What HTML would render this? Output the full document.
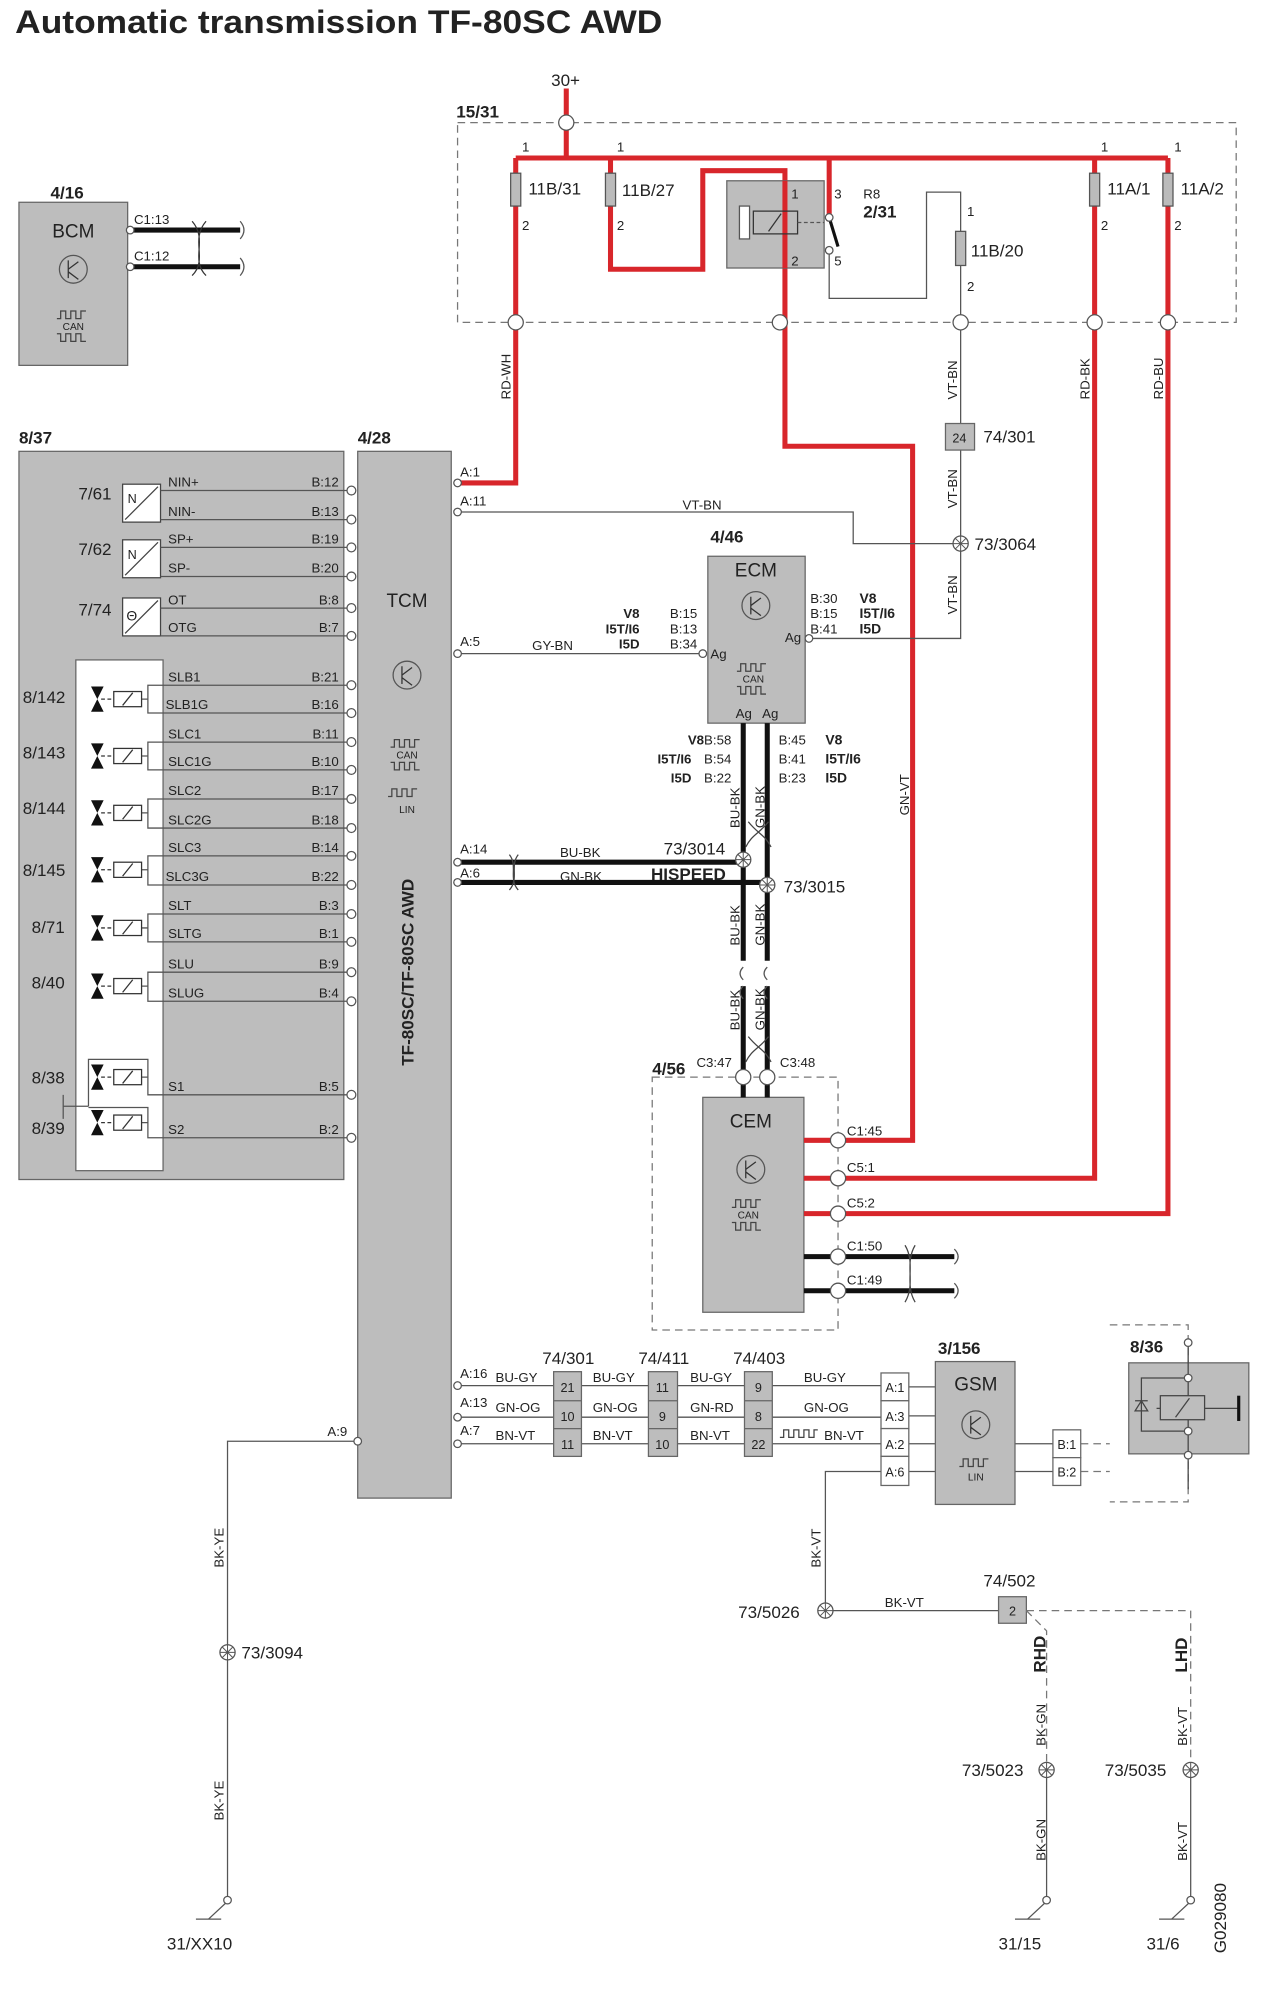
<!DOCTYPE html>
<html><head><meta charset="utf-8"><style>
html,body{margin:0;padding:0;background:#fff;}
svg{display:block;}
text{font-family:"Liberation Sans",Arial,sans-serif;fill:#222;}
.s{font-size:10.5px}.m{font-size:13.5px}.l{font-size:15px}.b{font-weight:bold}
.w{stroke:#555;stroke-width:1;fill:none}
.k{stroke:#111;stroke-width:4;fill:none}
.r{stroke:#d8262b;stroke-width:4;fill:none}
.box{fill:#bdbdbd;stroke:#666;stroke-width:1}
.d{stroke:#777;stroke-width:1;fill:none;stroke-dasharray:6 4}
.p{fill:#fff;stroke:#555;stroke-width:1}
</style></head><body>
<svg width="1264" height="2000" viewBox="0 0 1000 1582" preserveAspectRatio="none" xmlns="http://www.w3.org/2000/svg">
<defs>
<g id="tr"><circle cx="0" cy="0" r="11" fill="none" stroke="#555"/><path d="M-4,-7 V7 M-4,0 L4,-6 M-4,2 L4,8" stroke="#333" fill="none"/></g>
<g id="can"><path d="M-13,-6 h3 v-6 h4 v6 h4 v-6 h4 v6 h4 v-6 h4" stroke="#444" fill="none"/><path d="M-13,6 h3 v6 h4 v-6 h4 v6 h4 v-6 h4 v6 h4" stroke="#444" fill="none"/><text x="0" y="3" font-size="8" text-anchor="middle">CAN</text></g>
<g id="sol"><path d="M72,-10 L82,-10 L77,0 Z M72,10 L82,10 L77,0 Z" fill="#111"/><path d="M80,0 H90" stroke="#333" stroke-dasharray="3 2"/><rect x="90" y="-6" width="22" height="12" fill="#fff" stroke="#333"/><path d="M97,5 L105,-5" stroke="#333"/></g>
<g id="sp"><circle r="6" fill="#fff" stroke="#555"/><path d="M-4,-4 L4,4 M-4,4 L4,-4 M0,-6 V6 M-6,0 H6" stroke="#555" stroke-width="0.8"/></g>
</defs>

<text x="12" y="26" font-size="26" class="b" textLength="512" lengthAdjust="spacingAndGlyphs">Automatic transmission TF-80SC AWD</text>

<!-- 15/31 -->
<text x="436" y="68" class="m">30+</text>
<path d="M448,70 V125" class="r"/>
<rect x="362" y="97" width="616" height="158" class="d"/>
<text x="361" y="93" class="m b">15/31</text>
<path d="M408,125 H924" class="r"/>
<circle cx="448" cy="97" r="6" class="p"/>
<g class="r"><path d="M408,125 V255 M408,255 V382 H362"/><path d="M483,125 V213 H556 V135 H621 V255 V353 H722 V902 H663"/><path d="M656,125 V175"/><path d="M866,125 V932 H663"/><path d="M924,125 V960 H663"/></g>
<path d="M621,160 H605 V195 H621" stroke="#d8262b" stroke-width="3" fill="none"/>
<rect x="404" y="137" width="8" height="26" fill="#bbb" stroke="#555"/>
<rect x="479" y="137" width="8" height="26" fill="#bbb" stroke="#555"/>
<rect x="862" y="137" width="8" height="26" fill="#bbb" stroke="#555"/>
<rect x="920" y="137" width="8" height="26" fill="#bbb" stroke="#555"/>
<text x="418" y="154" class="m">11B/31</text><text x="492" y="155" class="m">11B/27</text>
<text x="876" y="154" class="m">11A/1</text><text x="934" y="154" class="m">11A/2</text>
<g class="s"><text x="413" y="120">1</text><text x="488" y="120">1</text><text x="871" y="120">1</text><text x="929" y="120">1</text>
<text x="413" y="182">2</text><text x="488" y="182">2</text><text x="871" y="182">2</text><text x="929" y="182">2</text></g>
<rect x="575" y="143" width="77" height="69" class="box"/>
<path d="M621,143 V212" class="r" stroke-width="3"/>
<rect x="585" y="163" width="8" height="26" fill="#fff" stroke="#555"/>
<rect x="596" y="167" width="35" height="18" fill="none" stroke="#333"/>
<path d="M608,183 L618,169" stroke="#333"/>
<path d="M631,176 H652" stroke="#555" stroke-dasharray="3 2"/>
<path d="M656,172 L663,195" stroke="#111" stroke-width="2.5"/>
<circle cx="656" cy="172" r="3" class="p"/><circle cx="656" cy="198" r="3" class="p"/>
<path d="M656,201 V236 H733 V152 H760 V255" class="w"/>
<rect x="756" y="183" width="8" height="27" fill="#bbb" stroke="#555"/>
<text x="768" y="203" class="m">11B/20</text>
<text x="765" y="171" class="s">1</text><text x="765" y="230" class="s">2</text>
<text x="626" y="157" class="s">1</text><text x="660" y="157" class="s">3</text><text x="626" y="210" class="s">2</text><text x="660" y="210" class="s">5</text>
<text x="683" y="157" class="s">R8</text><text x="683" y="172" class="m b">2/31</text>
<g><circle cx="408" cy="255" r="6" class="p"/><circle cx="617" cy="255" r="6" class="p"/><circle cx="760" cy="255" r="6" class="p"/><circle cx="866" cy="255" r="6" class="p"/><circle cx="924" cy="255" r="6" class="p"/></g>
<g class="s"><text transform="translate(404,316) rotate(-90)">RD-WH</text><text transform="translate(757,316) rotate(-90)">VT-BN</text><text transform="translate(862,316) rotate(-90)">RD-BK</text><text transform="translate(920,316) rotate(-90)">RD-BU</text>
<text transform="translate(757,402) rotate(-90)">VT-BN</text><text transform="translate(757,486) rotate(-90)">VT-BN</text><text transform="translate(719,645) rotate(-90)">GN-VT</text></g>
<path d="M760,261 V335 M760,356 V505 H640" class="w"/>
<rect x="748" y="335" width="23" height="21" class="box"/><text x="759" y="350" font-size="10" text-anchor="middle">24</text>
<text x="778" y="350" class="m">74/301</text>
<path d="M362,405 H675 V430 H760" class="w"/>
<use href="#sp" x="760" y="430"/><text x="771" y="435" class="m">73/3064</text>

<!-- BCM -->
<text x="40" y="157" class="m b">4/16</text>
<rect x="15" y="160" width="86" height="129" class="box"/>
<text x="58" y="188" class="l" text-anchor="middle">BCM</text>
<use href="#tr" x="58" y="213"/><use href="#can" x="58" y="258"/>
<path d="M103,182 H190 M103,211 H190" class="k"/>
<path d="M152,175 C165,190 150,205 163,218 M163,175 C150,190 165,205 152,218" stroke="#333" fill="none"/>
<circle cx="103" cy="182" r="3" class="p"/><circle cx="103" cy="211" r="3" class="p"/>
<text x="106" y="177" class="s">C1:13</text><text x="106" y="206" class="s">C1:12</text>
<path d="M190,175 q6,7 0,14 M190,204 q6,7 0,14" stroke="#555" fill="none"/>

<!-- 8/37 -->
<text x="15" y="351" class="m b">8/37</text><text x="283" y="351" class="m b">4/28</text>
<rect x="15" y="357" width="257" height="576" class="box"/>
<rect x="283" y="357" width="74" height="828" class="box"/>
<rect x="60" y="522" width="69" height="404" fill="#fff" stroke="#666"/>
<text x="322" y="480" class="l" text-anchor="middle">TCM</text>
<use href="#tr" x="322" y="534"/>
<use href="#can" x="322" y="597"/>
<path d="M307,630 h3 v-6 h4 v6 h4 v-6 h4 v6 h4 v-6 h4" stroke="#444" fill="none"/><text x="322" y="643" font-size="8" text-anchor="middle">LIN</text>
<text transform="translate(327,843) rotate(-90)" class="m b">TF-80SC/TF-80SC AWD</text>
<g fill="#fff" stroke="#444"><rect x="97" y="383" width="30" height="30"/><rect x="97" y="427" width="30" height="30"/><rect x="97" y="473" width="30" height="30"/></g>
<path d="M99,411 L125,385 M99,455 L125,429 M99,501 L125,475" stroke="#444"/>
<text x="101" y="398" font-size="10">N</text><text x="101" y="442" font-size="10">N</text><text x="100" y="491" font-size="11">Θ</text>
<g class="m"><text x="62" y="395">7/61</text><text x="62" y="439">7/62</text><text x="62" y="487">7/74</text>
<text x="18" y="556">8/142</text><text x="18" y="600">8/143</text><text x="18" y="644">8/144</text><text x="18" y="693">8/145</text><text x="25" y="738">8/71</text><text x="25" y="782">8/40</text><text x="25" y="857">8/38</text><text x="25" y="897">8/39</text></g>
<g class="w">
<path d="M127,388 H277 M127,411 H277 M127,433 H277 M127,456 H277 M127,481 H277 M127,503 H277"/>
<path d="M112,553 H117 V542 H277 M117,553 V564 H277"/>
<path d="M112,598 H117 V587 H277 M117,598 V609 H277"/>
<path d="M112,643 H117 V632 H277 M117,643 V655 H277"/>
<path d="M112,688 H117 V677 H277 M117,688 V700 H277"/>
<path d="M112,734 H117 V723 H277 M117,734 V745 H277"/>
<path d="M112,780 H117 V769 H277 M117,780 V792 H277"/>
<path d="M112,852 H117 V866 H277 M117,852 V838 H70 V875 M112,888 H117 V900 H277 M117,888 V876 H70 M50,866 V885 M50,875 H70"/>
</g>
<use href="#sol" y="553"/><use href="#sol" y="598"/><use href="#sol" y="643"/><use href="#sol" y="688"/><use href="#sol" y="734"/><use href="#sol" y="780"/><use href="#sol" y="852"/><use href="#sol" y="888"/>
<g class="s">
<text x="133" y="385">NIN+</text><text x="133" y="408">NIN-</text><text x="133" y="430">SP+</text><text x="133" y="453">SP-</text><text x="133" y="478">OT</text><text x="133" y="500">OTG</text>
<text x="133" y="539">SLB1</text><text x="131" y="561">SLB1G</text><text x="133" y="584">SLC1</text><text x="133" y="606">SLC1G</text><text x="133" y="629">SLC2</text><text x="133" y="652">SLC2G</text><text x="133" y="674">SLC3</text><text x="131" y="697">SLC3G</text><text x="133" y="720">SLT</text><text x="133" y="742">SLTG</text><text x="133" y="766">SLU</text><text x="133" y="789">SLUG</text><text x="133" y="863">S1</text><text x="133" y="897">S2</text>
</g>
<g class="s" text-anchor="end">
<text x="268" y="385">B:12</text><text x="268" y="408">B:13</text><text x="268" y="430">B:19</text><text x="268" y="453">B:20</text><text x="268" y="478">B:8</text><text x="268" y="500">B:7</text>
<text x="268" y="539">B:21</text><text x="268" y="561">B:16</text><text x="268" y="584">B:11</text><text x="268" y="606">B:10</text><text x="268" y="629">B:17</text><text x="268" y="652">B:18</text><text x="268" y="674">B:14</text><text x="268" y="697">B:22</text><text x="268" y="720">B:3</text><text x="268" y="742">B:1</text><text x="268" y="766">B:9</text><text x="268" y="789">B:4</text><text x="268" y="863">B:5</text><text x="268" y="897">B:2</text>
</g>
<g><circle cx="278" cy="388" r="3.5" class="p"/><circle cx="278" cy="411" r="3.5" class="p"/><circle cx="278" cy="433" r="3.5" class="p"/><circle cx="278" cy="456" r="3.5" class="p"/><circle cx="278" cy="481" r="3.5" class="p"/><circle cx="278" cy="503" r="3.5" class="p"/><circle cx="278" cy="542" r="3.5" class="p"/><circle cx="278" cy="564" r="3.5" class="p"/><circle cx="278" cy="587" r="3.5" class="p"/><circle cx="278" cy="609" r="3.5" class="p"/><circle cx="278" cy="632" r="3.5" class="p"/><circle cx="278" cy="655" r="3.5" class="p"/><circle cx="278" cy="677" r="3.5" class="p"/><circle cx="278" cy="700" r="3.5" class="p"/><circle cx="278" cy="723" r="3.5" class="p"/><circle cx="278" cy="745" r="3.5" class="p"/><circle cx="278" cy="769" r="3.5" class="p"/><circle cx="278" cy="792" r="3.5" class="p"/><circle cx="278" cy="866" r="3.5" class="p"/><circle cx="278" cy="900" r="3.5" class="p"/></g>

<g class="s"><text x="364" y="377">A:1</text><text x="364" y="400">A:11</text><text x="364" y="511">A:5</text><text x="364" y="675">A:14</text><text x="364" y="694">A:6</text><text x="540" y="403">VT-BN</text><text x="421" y="514">GY-BN</text><text x="443" y="678">BU-BK</text><text x="443" y="697">GN-BK</text></g>
<path d="M362,517 H556" class="w"/>
<text x="562" y="429" class="m b">4/46</text>
<rect x="560" y="440" width="77" height="132" class="box"/>
<text x="598" y="456" class="l" text-anchor="middle">ECM</text>
<use href="#tr" x="598" y="479"/><use href="#can" x="596" y="537"/>
<text x="562" y="521" class="s">Ag</text><text x="621" y="508" class="s">Ag</text><text x="582" y="568" class="s">Ag</text><text x="603" y="568" class="s">Ag</text>
<circle cx="556" cy="517" r="3" class="p"/><circle cx="640" cy="505" r="3" class="p"/>
<g class="s b" font-size="11" text-anchor="end"><text x="506" y="489">V8</text><text x="506" y="501">I5T/I6</text><text x="506" y="513">I5D</text><text x="557" y="589">V8</text><text x="547" y="604">I5T/I6</text><text x="547" y="619">I5D</text></g>
<g class="s"><text x="530" y="489">B:15</text><text x="530" y="501">B:13</text><text x="530" y="513">B:34</text><text x="641" y="477">B:30</text><text x="641" y="489">B:15</text><text x="641" y="501">B:41</text>
<text x="557" y="589">B:58</text><text x="557" y="604">B:54</text><text x="557" y="619">B:22</text><text x="616" y="589">B:45</text><text x="616" y="604">B:41</text><text x="616" y="619">B:23</text></g>
<g font-size="11" class="b"><text x="680" y="477">V8</text><text x="680" y="489">I5T/I6</text><text x="680" y="501">I5D</text><text x="653" y="589">V8</text><text x="653" y="604">I5T/I6</text><text x="653" y="619">I5D</text></g>
<path d="M588,572 V760 M607,572 V760 M588,780 V850 M607,780 V850" class="k" stroke-width="3.5"/>
<path d="M362,682 H588 M362,698 H607" class="k"/>
<path d="M588,775 q-5,-5 0,-10 M607,775 q-5,-5 0,-10 M588,790 q-5,-5 0,-10 M607,790 q-5,-5 0,-10" stroke="#555" fill="none"/>
<path d="M592,650 C600,660 605,660 610,670 M608,650 C600,660 595,660 590,670 M592,820 C600,830 605,830 610,840 M608,820 C600,830 595,830 590,840" stroke="#444" fill="none"/>
<path d="M403,676 C410,685 402,695 410,704 M410,676 C403,685 411,695 403,704" stroke="#444" fill="none"/>
<circle cx="362" cy="682" r="3" class="p"/><circle cx="362" cy="698" r="3" class="p"/><circle cx="362" cy="382" r="3" class="p"/><circle cx="362" cy="405" r="3" class="p"/><circle cx="362" cy="517" r="3" class="p"/>
<use href="#sp" x="588" y="680"/><use href="#sp" x="607" y="700"/>
<text x="525" y="676" class="m">73/3014</text><text x="620" y="706" class="m">73/3015</text>
<text x="515" y="696" class="m b" font-size="12">HISPEED</text>
<g class="s"><text transform="translate(585,655) rotate(-90)">BU-BK</text><text transform="translate(605,655) rotate(-90)">GN-BK</text><text transform="translate(585,748) rotate(-90)">BU-BK</text><text transform="translate(605,748) rotate(-90)">GN-BK</text><text transform="translate(585,815) rotate(-90)">BU-BK</text><text transform="translate(605,815) rotate(-90)">GN-BK</text></g>
<rect x="516" y="852" width="147" height="200" class="d"/>
<text x="516" y="850" class="m b">4/56</text><text x="551" y="844" class="s">C3:47</text><text x="617" y="844" class="s">C3:48</text>
<rect x="556" y="868" width="80" height="170" class="box"/>
<path d="M588,850 V868 M607,850 V868" class="k" stroke-width="3"/>
<circle cx="588" cy="852" r="6" class="p"/><circle cx="607" cy="852" r="6" class="p"/>
<text x="594" y="892" class="l" text-anchor="middle">CEM</text>
<use href="#tr" x="594" y="925"/><use href="#can" x="592" y="961"/>
<path d="M636,902 H663 M636,932 H663 M636,960 H663" class="r" stroke-width="3"/>
<path d="M636,994 H755 M636,1021 H755" class="k"/>
<path d="M716,985 C725,1000 715,1015 724,1030 M724,985 C715,1000 725,1015 716,1030" stroke="#444" fill="none"/>
<path d="M755,988 q6,6 0,12 M755,1015 q6,6 0,12" stroke="#555" fill="none"/>
<g><circle cx="663" cy="902" r="6" class="p"/><circle cx="663" cy="932" r="6" class="p"/><circle cx="663" cy="960" r="6" class="p"/><circle cx="663" cy="994" r="6" class="p"/><circle cx="663" cy="1021" r="6" class="p"/></g>
<g class="s"><text x="670" y="898">C1:45</text><text x="670" y="927">C5:1</text><text x="670" y="955">C5:2</text><text x="670" y="989">C1:50</text><text x="670" y="1016">C1:49</text></g>

<g class="w"><path d="M362,1096 H697 M362,1121 H697 M362,1142 H697 M719,1097 H740 M719,1120 H740 M719,1142 H740 M719,1164 H740 M803,1142 H833 M803,1164 H833"/><path d="M697,1164 H653 V1274 H790"/><path d="M283,1140 H180 V1500"/></g>
<path d="M855,1142 H878 M855,1164 H878" class="d"/>
<path d="M617,1137 h3 v-6 h4 v6 h4 v-6 h4 v6 h4 v-6 h4 v6 h4 v-6 h3" stroke="#444" fill="none"/>
<g class="box"><rect x="438" y="1085" width="22" height="67"/><rect x="513" y="1085" width="23" height="67"/><rect x="589" y="1085" width="22" height="67"/></g>
<path d="M438,1108 H460 M438,1130 H460 M513,1108 H536 M513,1130 H536 M589,1108 H611 M589,1130 H611" stroke="#666"/>
<g font-size="10" text-anchor="middle"><text x="449" y="1101">21</text><text x="449" y="1124">10</text><text x="449" y="1146">11</text><text x="524" y="1101">11</text><text x="524" y="1124">9</text><text x="524" y="1146">10</text><text x="600" y="1101">9</text><text x="600" y="1124">8</text><text x="600" y="1146">22</text></g>
<g class="m"><text x="429" y="1079">74/301</text><text x="505" y="1079">74/411</text><text x="580" y="1079">74/403</text></g>
<g class="s"><text x="364" y="1090">A:16</text><text x="364" y="1113">A:13</text><text x="364" y="1135">A:7</text><text x="259" y="1136">A:9</text>
<text x="392" y="1093">BU-GY</text><text x="392" y="1117">GN-OG</text><text x="392" y="1139">BN-VT</text>
<text x="469" y="1093">BU-GY</text><text x="469" y="1117">GN-OG</text><text x="469" y="1139">BN-VT</text>
<text x="546" y="1093">BU-GY</text><text x="546" y="1117">GN-RD</text><text x="546" y="1139">BN-VT</text>
<text x="636" y="1093">BU-GY</text><text x="636" y="1117">GN-OG</text><text x="652" y="1139">BN-VT</text></g>
<circle cx="362" cy="1096" r="3" class="p"/><circle cx="362" cy="1121" r="3" class="p"/><circle cx="362" cy="1142" r="3" class="p"/><circle cx="283" cy="1140" r="3" class="p"/>
<g fill="#fff" stroke="#666"><rect x="697" y="1086" width="22" height="22"/><rect x="697" y="1108" width="22" height="22"/><rect x="697" y="1130" width="22" height="22"/><rect x="697" y="1152" width="22" height="23"/><rect x="833" y="1131" width="22" height="22"/><rect x="833" y="1153" width="22" height="22"/></g>
<g font-size="10" text-anchor="middle"><text x="708" y="1101">A:1</text><text x="708" y="1124">A:3</text><text x="708" y="1146">A:2</text><text x="708" y="1168">A:6</text><text x="844" y="1146">B:1</text><text x="844" y="1168">B:2</text></g>
<text x="742" y="1071" class="m b">3/156</text>
<rect x="740" y="1077" width="63" height="113" class="box"/>
<text x="772" y="1100" class="l" text-anchor="middle">GSM</text>
<use href="#tr" x="772" y="1127"/>
<path d="M759,1160 h3 v-6 h4 v6 h4 v-6 h4 v6 h4 v-6 h4" stroke="#444" fill="none"/><text x="772" y="1171" font-size="8" text-anchor="middle">LIN</text>
<path d="M878,1048 H940 V1188 H878" class="d"/>
<text x="894" y="1070" class="m b">8/36</text>
<rect x="893" y="1078" width="95" height="72" class="box"/>
<path d="M940,1062 V1178 M940,1090 H903 V1132 H940 M915,1114 H980 M980,1105 V1123" stroke="#444" fill="none"/>
<path d="M980,1104 V1124" stroke="#111" stroke-width="2.5"/>
<rect x="918" y="1104" width="35" height="19" fill="#bdbdbd" stroke="#444"/><path d="M930,1121 L941,1106" stroke="#444"/>
<path d="M898,1116 h10 l-5,-8 z" fill="none" stroke="#444"/><path d="M898,1108 h10" stroke="#444"/>
<circle cx="940" cy="1062" r="3" class="p"/><circle cx="940" cy="1090" r="3" class="p"/><circle cx="940" cy="1132" r="3" class="p"/><circle cx="940" cy="1151" r="3" class="p"/>
<text transform="translate(649,1240) rotate(-90)" class="s">BK-VT</text>
<use href="#sp" x="653" y="1274"/><text x="584" y="1280" class="m">73/5026</text>
<text x="700" y="1271" class="s">BK-VT</text>
<rect x="790" y="1263" width="22" height="21" class="box"/><text x="801" y="1278" font-size="10" text-anchor="middle">2</text>
<text x="778" y="1255" class="m">74/502</text>
<path d="M812,1274 H942 V1395 M812,1274 L828,1290 V1395" class="d"/>
<text transform="translate(827,1323) rotate(-90)" class="m b">RHD</text><text transform="translate(939,1323) rotate(-90)" class="m b">LHD</text>
<text transform="translate(827,1381) rotate(-90)" class="s">BK-GN</text><text transform="translate(939,1381) rotate(-90)" class="s">BK-VT</text>
<use href="#sp" x="828" y="1400"/><use href="#sp" x="942" y="1400"/>
<text x="761" y="1405" class="m">73/5023</text><text x="874" y="1405" class="m">73/5035</text>
<path d="M828,1406 V1500 M942,1406 V1500" class="w"/>
<text transform="translate(827,1472) rotate(-90)" class="s">BK-GN</text><text transform="translate(939,1472) rotate(-90)" class="s">BK-VT</text>
<use href="#sp" x="180" y="1307"/><text x="191" y="1312" class="m">73/3094</text>
<text transform="translate(177,1240) rotate(-90)" class="s">BK-YE</text><text transform="translate(177,1440) rotate(-90)" class="s">BK-YE</text>
<g class="w"><path d="M180,1504 L165,1518 M155,1518 H175 M828,1504 L813,1518 M803,1518 H823 M942,1504 L927,1518 M917,1518 H937"/></g>
<circle cx="180" cy="1503" r="3" class="p"/><circle cx="828" cy="1503" r="3" class="p"/><circle cx="942" cy="1503" r="3" class="p"/>
<text x="132" y="1542" class="m">31/XX10</text><text x="790" y="1542" class="m">31/15</text><text x="907" y="1542" class="m">31/6</text>
<text transform="translate(970,1545) rotate(-90)" class="m">G029080</text>
</svg>
</body></html>
